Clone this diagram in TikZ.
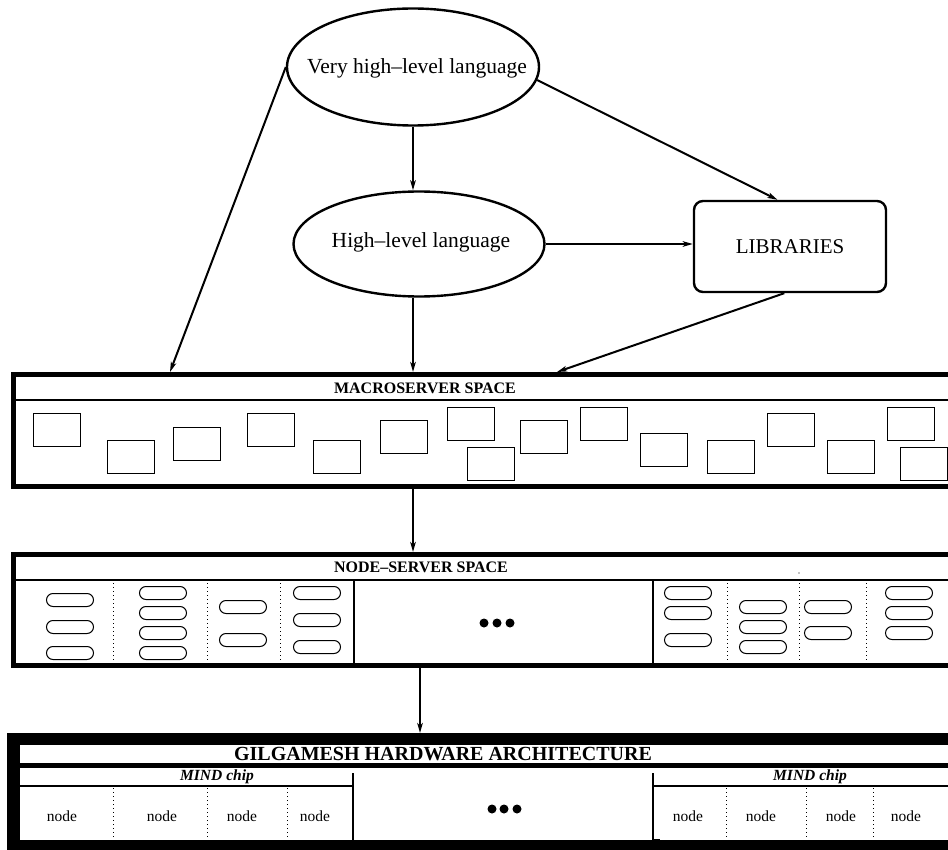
\documentclass[tikz,border=0pt]{standalone}
\usepackage{fontspec}
\setmainfont{Liberation Serif}
\usetikzlibrary{shapes.geometric,arrows.meta}
\begin{document}
\begin{tikzpicture}[x=1pt,y=-1pt,
  arr/.style={line width=2pt,-{Stealth[length=10pt,width=5.5pt,inset=2.5pt]}},
  lang/.style={ellipse,draw,line width=2.4pt,inner sep=0pt},
  langtxt/.style={inner sep=0pt,font=\fontsize{21.5}{24}\selectfont},
  lib/.style={draw,rounded corners=9pt,line width=2.4pt,minimum width=192pt,minimum height=91pt,inner sep=0pt,font=\fontsize{21}{24}\selectfont},
  ttl/.style={font=\bfseries\fontsize{16}{18}\selectfont,inner sep=0pt},
  bigttl/.style={font=\bfseries\fontsize{20}{22}\selectfont,inner sep=0pt},
  mbox/.style={line width=1pt},
  oval/.style={line width=1pt,rounded corners=6.5pt},
  dotln/.style={line width=1pt,dash pattern=on 1pt off 3pt},
  nd/.style={font=\fontsize{15.5}{18}\selectfont,inner sep=0pt,anchor=base},
  chip/.style={font=\bfseries\itshape\fontsize{15.5}{18}\selectfont,inner sep=0pt,anchor=base},
]
\useasboundingbox (0,0) rectangle (948,850);
\clip (0,0) rectangle (948,850);

% ---------- top graph ----------
\node[lang,minimum width=252pt,minimum height=117pt] (vh) at (413,67) {};
\node[langtxt] (vht) at (417,68) {Very high–level language};
\node[lang,minimum width=251pt,minimum height=105pt] (hl) at (419,244) {};
\node[langtxt] (hlt) at (421,242) {High–level language};
\node[lib] (lib) at (790,246.5) {LIBRARIES};

\coordinate (m1) at (170,372);
\coordinate (m2) at (413,372);
\coordinate (m3) at (557,372);

\draw[arr] (vh.west) -- (m1);
\draw[arr] (vh.south) -- (vh.south |- hl.north);
\draw[arr] (hl.south -| m2) -- (m2);
\draw[arr] (vh.-6) -- (lib.105);
\draw[arr] (hl.east) -- (hl.east -| lib.west);
\draw[arr] (lib.-97) -- (m3);

% ---------- macroserver space ----------
\draw[line width=5pt] (13.5,374.5) rectangle (965,486.5);
\draw[line width=1.8pt] (13.5,400) -- (965,400);
\node[ttl] (mt) at (425,388) {MACROSERVER SPACE};
\foreach \x/\y in {33/413,107/440,173/427,247/413,313/440,380/420,447/407,467/447,
                   520/420,580/407,640/433,707/440,767/413,827/440,887/407,900/447}
  \draw[mbox] (\x,\y) rectangle ++(47,33);

\coordinate (mb) at (413,489);
\coordinate (nt) at (413,552);
\draw[arr] (mb) -- (nt);

% ---------- node-server space ----------
\draw[line width=5pt] (13.5,554.5) rectangle (965,665.5);
\draw[line width=1.8pt] (13.5,580) -- (965,580);
\draw[line width=2pt] (354,580) -- (354,665.5);
\draw[line width=2pt] (652.5,580) -- (652.5,665.5);
\node[ttl] (nst) at (421,567.5) {NODE–SERVER SPACE};
\foreach \x in {113,207,280,727,799,866}
  \draw[dotln] (\x,583) -- (\x,663);
\fill (799,573) circle (0.6);
\foreach \x/\y in {70/600,70/627,70/653,
                   163/593,163/613,163/633,163/653,
                   243/607,243/640,
                   317/593,317/620,317/647,
                   688/593,688/613,688/640,
                   763/607,763/627,763/647,
                   828/607,828/633,
                   909/593,909/613,909/633}
  \draw[oval] (\x-23.5,\y-6.5) rectangle (\x+23.5,\y+6.5);
\foreach \x in {484,497,510}
  \fill (\x,623) circle (4.5);

\coordinate (nb) at (420,668);
\coordinate (gt) at (420,733);
\draw[arr] (nb) -- (gt);

% ---------- Gilgamesh hardware ----------
\draw[line width=12.5pt] (13.5,739) rectangle (975,846.5);
\node[bigttl] (gt2) at (443,754) {GILGAMESH HARDWARE ARCHITECTURE};
\draw[line width=5pt] (20,765.5) -- (965,765.5);
\draw[line width=1.8pt] (20,786) -- (353,786);
\draw[line width=1.8pt] (653,786) -- (965,786);
\draw[line width=1.8pt] (353,773) -- (353,840);
\draw[line width=1.8pt] (653,773) -- (653,840);
\draw[line width=1pt] (653,839) -- (660,839);
\node[chip] (c1) at (217,780) {MIND chip};
\node[chip] (c2) at (810,780) {MIND chip};
\foreach \x in {113,207,287,726,806,873}
  \draw[dotln] (\x,788) -- (\x,840);
\foreach \x [count=\i] in {62,162,242,315,688,761,841,906}
  \node[nd] (n\i) at (\x,821) {node};
\foreach \x in {492,504,517}
  \fill (\x,809) circle (4.5);
\end{tikzpicture}
\end{document}
